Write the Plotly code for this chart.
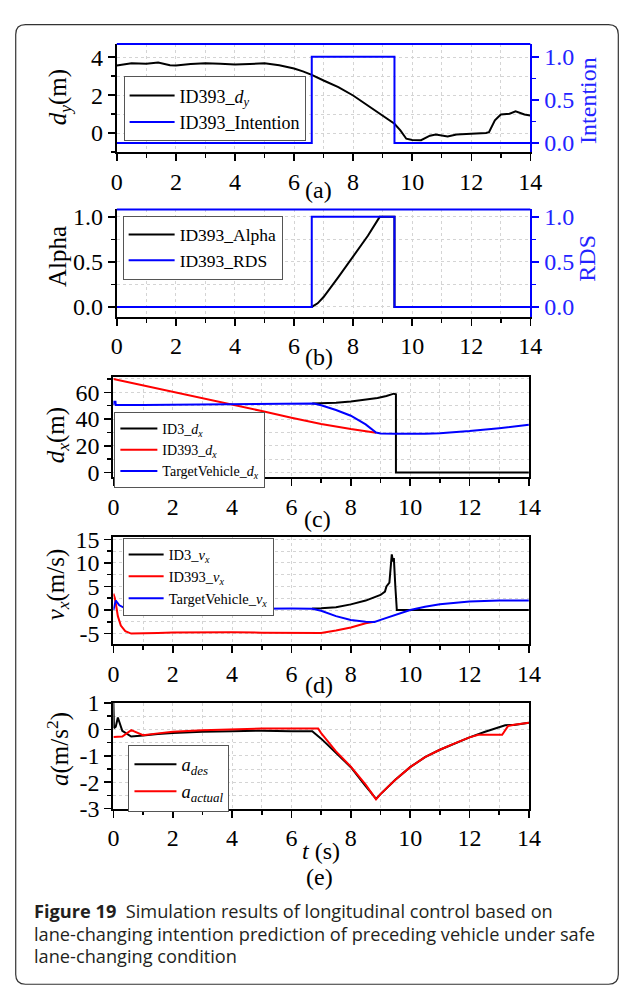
import plotly.graph_objects as go

W, H = 641, 1007

# ---------------- data ----------------
# (a)
t_dy = [0, 0.3, 0.5, 1.0, 1.4, 1.8, 2.0, 2.5, 3.0, 3.5, 4.0, 4.5, 5.0, 5.5, 6.0, 6.3, 6.6, 7.0, 7.5,
        8.0, 8.5, 9.0, 9.4, 9.6, 9.8, 10.0, 10.3, 10.6, 10.8, 11.2, 11.5, 12.0, 12.5, 12.6, 12.8,
        13.0, 13.3, 13.5, 13.8, 14.0]
dy = [3.56, 3.65, 3.68, 3.65, 3.72, 3.57, 3.56, 3.64, 3.68, 3.65, 3.61, 3.64, 3.68, 3.57, 3.40,
      3.25, 3.07, 2.77, 2.42, 1.98, 1.46, 0.93, 0.49, 0.14, -0.30, -0.37, -0.38, -0.14, -0.08,
      -0.18, -0.08, -0.04, 0.0, 0.05, 0.67, 0.98, 1.02, 1.14, 0.98, 0.92]
t_int = [0, 6.6, 6.6, 9.4, 9.4, 14]
intention = [0, 0, 1, 1, 0, 0]

# (b)
t_alpha = [0, 6.6, 6.8, 7.0, 7.5, 8.0, 8.5, 8.9, 9.4, 9.4, 14]
alpha = [0, 0, 0.04, 0.11, 0.33, 0.56, 0.79, 1.0, 1.0, 0, 0]
t_rds = [0, 6.6, 6.6, 9.4, 9.4, 14]
rds = [0, 0, 1, 1, 0, 0]

# (c)
t_id3_dx = [6.7, 7.0, 7.5, 8.0, 8.4, 8.9, 9.2, 9.38, 9.45, 9.52, 9.52, 14]
id3_dx = [51.7, 51.8, 52.2, 53.1, 54.2, 55.8, 57.3, 58.8, 59.0, 58.6, 0, 0]
t_id393_dx = [0, 1, 2, 3, 4, 5, 6, 7, 8, 8.85]
id393_dx = [70, 65.3, 60.5, 55.8, 51.0, 46.0, 41.0, 36.4, 32.6, 29.8]
t_tv_dx = [0, 0.01, 0.07, 0.08, 1, 2, 3, 4, 5, 6, 6.75, 7.0, 7.5, 8.0, 8.5, 8.85, 9.0, 9.5,
           10, 10.5, 11, 12, 13, 14]
tv_dx = [50.5, 53, 53, 50.5, 50.6, 50.8, 51.0, 51.2, 51.4, 51.6, 51.7, 50.3, 46.8, 42.5, 36.0,
         29.9, 29.3, 29.0, 28.9, 29.0, 29.4, 31.0, 33.2, 35.8]

# (d)
t_id3_vx = [6.7, 7.0, 7.5, 8.0, 8.5, 9.0, 9.15, 9.2, 9.3, 9.35, 9.38, 9.42, 9.45, 9.5, 9.55, 14]
id3_vx = [0.3, 0.35, 0.6, 1.2, 2.0, 3.2, 3.9, 5.0, 5.8, 10.0, 11.8, 10.3, 11.0, 5.0, 0, 0]
t_id393_vx = [0, 0.05, 0.1, 0.15, 0.25, 0.4, 0.6, 1, 1.5, 2, 3, 4, 5, 6, 7, 7.5, 8, 8.5, 8.8]
id393_vx = [3.5, 2.5, 0.7, -1.3, -3.3, -4.5, -5.0, -5.0, -4.85, -4.75, -4.7, -4.7, -4.8, -4.85,
            -4.85, -4.35, -3.7, -2.8, -2.5]
t_tv_vx = [0, 0.08, 0.2, 0.4, 1, 2, 4, 6, 6.7, 7.0, 7.5, 8.0, 8.5, 8.8, 9.0, 9.5, 10, 10.5, 11,
           12, 13, 14]
tv_vx = [0, 2.0, 1.0, 0.35, 0.15, 0.2, 0.27, 0.33, 0.27, -0.15, -1.3, -2.1, -2.5, -2.55, -2.1,
         -1.0, 0, 0.7, 1.2, 1.8, 2.0, 2.0]

# (e)
t_ades = [0, 0.02, 0.08, 0.15, 0.3, 0.6, 1.0, 1.5, 2, 3, 4, 5, 6, 6.7, 7, 7.5, 8, 8.5, 8.85, 9,
          9.5, 10, 10.5, 11, 11.5, 12, 12.5, 13, 13.2, 13.5, 14]
a_des = [1.0, 0.05, 0.1, 0.45, -0.05, -0.27, -0.23, -0.17, -0.14, -0.09, -0.07, -0.05, -0.07,
         -0.07, -0.35, -0.89, -1.43, -2.15, -2.63, -2.45, -1.91, -1.43, -1.05, -0.77, -0.53, -0.3,
         -0.1, 0.1, 0.16, 0.17, 0.25]
t_aact = [0, 0.3, 0.6, 0.9, 1.0, 1.5, 2, 3, 4, 5, 6, 6.9, 7.0, 7.5, 8, 8.5, 8.85, 9, 9.5, 10,
          10.5, 11, 11.5, 12, 12.3, 12.5, 13.1, 13.3, 13.5, 14]
a_act = [-0.29, -0.27, -0.03, -0.17, -0.22, -0.15, -0.09, -0.03, 0.0, 0.03, 0.03, 0.03, -0.14,
         -0.83, -1.41, -2.09, -2.65, -2.45, -1.91, -1.43, -1.05, -0.77, -0.53, -0.3, -0.2, -0.2,
         -0.2, 0.13, 0.18, 0.25]

# tick labels
x_ticks = [0, 2, 4, 6, 8, 10, 12, 14]
x_ticktext = ["0", "2", "4", "6", "8", "10", "12", "14"]
ya_ticks = [0, 2, 4]
ya_text = ["0", "2", "4"]
frac_ticks = [0, 0.5, 1.0]
frac_text = ["0.0", "0.5", "1.0"]
yc_ticks = [0, 20, 40, 60]
yc_text = ["0", "20", "40", "60"]
yd_ticks = [-5, 0, 5, 10, 15]
yd_text = ["-5", "0", "5", "10", "15"]
ye_ticks = [-3, -2, -1, 0, 1]
ye_text = ["-3", "-2", "-1", "0", "1"]

# ---------------- styling ----------------
SERIF = "Liberation Serif, Times New Roman, serif"
BLUE = "#0000ff"
BLUE_T = "#2323ff"
RED = "#ff0000"
GRID = "#d4d4d4"
LW = 2
TICK_SIZE = 24


def px_x(p):
    return p / W


def px_y(p):
    return 1 - p / H


fig = go.Figure()


def line(x, y, xa, ya, name, color, legend):
    fig.add_trace(go.Scatter(x=x, y=y, xaxis=xa, yaxis=ya, mode="lines", name=name,
                             line=dict(color=color, width=LW), legend=legend,
                             legendgroup=name, showlegend=True, hoverinfo="skip"))


line(t_dy, dy, "x", "y", "ID393_<i>d</i><sub><i>y</i></sub>", "black", "legend")
line(t_int, intention, "x", "y6", "ID393_Intention", BLUE, "legend")
line(t_alpha, alpha, "x2", "y2", "ID393_Alpha", "black", "legend2")
line(t_rds, rds, "x2", "y7", "ID393_RDS", BLUE, "legend2")
line(t_id393_dx, id393_dx, "x3", "y3", "ID393_<i>d</i><sub><i>x</i></sub>", RED, "legend3")
line(t_id3_dx, id3_dx, "x3", "y3", "ID3_<i>d</i><sub><i>x</i></sub>", "black", "legend3")
line(t_tv_dx, tv_dx, "x3", "y3", "TargetVehicle_<i>d</i><sub><i>x</i></sub>", BLUE, "legend3")
line(t_id3_vx, id3_vx, "x4", "y4", "ID3_<i>v</i><sub><i>x</i></sub>", "black", "legend4")
line(t_id393_vx, id393_vx, "x4", "y4", "ID393_<i>v</i><sub><i>x</i></sub>", RED, "legend4")
line(t_tv_vx, tv_vx, "x4", "y4", "TargetVehicle_<i>v</i><sub><i>x</i></sub>", BLUE, "legend4")
line(t_ades, a_des, "x5", "y5", "<i>a</i><sub><i>des</i></sub>", "black", "legend5")
line(t_aact, a_act, "x5", "y5", "<i>a</i><sub><i>actual</i></sub>", RED, "legend5")

fig.data[4].legendrank = 2
fig.data[5].legendrank = 1
fig.data[6].legendrank = 3

tickfont = dict(family=SERIF, size=TICK_SIZE, color="black")


def xaxis(dom, anchor, mirror):
    return dict(domain=[px_x(dom[0]), px_x(dom[1])], anchor=anchor, range=[0, 14],
                tickmode="array", tickvals=x_ticks, ticktext=x_ticktext,
                ticks="outside", ticklen=7, tickwidth=1.5, tickcolor="black",
                showline=True, linecolor="black", linewidth=2, mirror=mirror,
                showgrid=True, gridcolor=GRID, griddash="dot", gridwidth=1,
                minor=dict(dtick=1, tick0=0, ticks="outside", ticklen=4, tickwidth=1.5,
                           tickcolor="black", showgrid=True, gridcolor=GRID, griddash="dot"),
                tickfont=tickfont, zeroline=False, fixedrange=True)


def yaxis(dom, anchor, rng, tv, tt, mdt, mirror):
    return dict(domain=[px_y(dom[1]), px_y(dom[0])], anchor=anchor, range=rng,
                tickmode="array", tickvals=tv, ticktext=tt,
                ticks="outside", ticklen=7, tickwidth=1.5, tickcolor="black",
                showline=True, linecolor="black", linewidth=2, mirror=mirror,
                showgrid=True, gridcolor=GRID, griddash="dot", gridwidth=1,
                minor=dict(dtick=mdt, tick0=0, ticks="outside", ticklen=4, tickwidth=1.5,
                           tickcolor="black", showgrid=True, gridcolor=GRID, griddash="dot"),
                tickfont=tickfont, zeroline=False, fixedrange=True)


def y2axis(over, anchor, rng):
    return dict(overlaying=over, anchor=anchor, side="right", range=rng,
                tickmode="array", tickvals=frac_ticks, ticktext=frac_text,
                ticks="outside", ticklen=7, tickwidth=1.5, tickcolor=BLUE,
                showline=True, linecolor=BLUE, linewidth=2, showgrid=False,
                minor=dict(dtick=0.25, tick0=0, ticks="outside", ticklen=4, tickwidth=1.5,
                           tickcolor=BLUE, showgrid=False),
                tickfont=dict(family=SERIF, size=TICK_SIZE, color=BLUE_T), zeroline=False,
                fixedrange=True)


AB = (114, 539.5)
CDE = (110.5, 538)

layout = dict(
    width=W, height=H, margin=dict(l=0, r=0, t=0, b=0, pad=0),
    paper_bgcolor="white", plot_bgcolor="white", hovermode=False,
    xaxis=xaxis(AB, "y", False),
    yaxis=yaxis((31.7, 142.7), "x", [-1.0, 4.7], ya_ticks, ya_text, 1, False),
    yaxis6=y2axis("y", "x", [-0.106, 1.15]),
    xaxis2=xaxis(AB, "y2", False),
    yaxis2=yaxis((201.7, 311.7), "x2", [-0.108, 1.082], frac_ticks, frac_text, 0.25, False),
    yaxis7=y2axis("y2", "x2", [-0.108, 1.082]),
    xaxis3=xaxis(CDE, "y3", True),
    yaxis3=yaxis((374, 476.7), "x3", [-3.6, 71.2], yc_ticks, yc_text, 10, True),
    xaxis4=xaxis(CDE, "y4", True),
    yaxis4=yaxis((538.3, 647.7), "x4", [-7.2, 15.4], yd_ticks, yd_text, 2.5, True),
    xaxis5=xaxis(CDE, "y5", True),
    yaxis5=yaxis((708.3, 816.7), "x5", [-3, 1], ye_ticks, ye_text, 0.5, True),
)


def legend(x, y, size, itemw, yanchor="top"):
    return dict(x=px_x(x), y=px_y(y), xanchor="left", yanchor=yanchor, xref="paper",
                yref="paper", bgcolor="white", bordercolor="#555555", borderwidth=1,
                font=dict(family=SERIF, size=size, color="black"), itemwidth=itemw,
                tracegroupgap=0, traceorder="normal")


layout["legend"] = legend(121, 65, 18, 45)
layout["legend2"] = legend(120, 208, 17.5, 46)
layout["legend3"] = legend(111.5, 409.5, 14, 37)
layout["legend4"] = legend(120, 538.5, 14.5, 35)
layout["legend5"] = legend(126, 751, 18.5, 42)

fig.update_layout(**layout)

for ya in ("y", "y2"):
    fig.add_shape(type="line", xref=ya.replace("y", "x") + " domain", yref=ya + " domain",
                  x0=0, x1=1, y0=1, y1=1, line=dict(color=BLUE, width=2))

ann = []


def text(x, y, s, size, color="black", angle=0, family=SERIF, xanchor="center"):
    ann.append(dict(x=px_x(x), y=px_y(y), xref="paper", yref="paper", text=s,
                    showarrow=False, textangle=angle, xanchor=xanchor, yanchor="middle",
                    font=dict(family=family, size=size, color=color)))


text(55, 86, "<i>d</i><sub><i>y</i></sub>(m)", 25, angle=-90)
text(598, 90, "Intention", 24, color=BLUE_T, angle=-90)
text(53, 250, "Alpha", 25, angle=-90)
text(598, 252, "RDS", 24, color=BLUE_T, angle=-90)
text(53, 434, "<i>d</i><sub><i>x</i></sub>(m)", 25, angle=-90)
text(53, 587, "<i>v</i><sub><i>x</i></sub>(m/s)", 25, angle=-90)
text(54, 755, "<i>a</i>(m/s<sup>2</sup>)", 25, angle=-90)

text(322, 182, "(a)", 24)
text(322, 353, "(b)", 24)
text(321, 519, "(c)", 24)
text(322, 690, "(d)", 24)
text(324, 860, "<i>t</i> (s)", 24)
text(323, 887, "(e)", 24)

CAP = "Open Sans"
CAP_SIZE = 18.2
text(27, 922, "<b>Figure 19</b>  Simulation results of longitudinal control based on", CAP_SIZE,
     color="#231f20", family=CAP, xanchor="left")
text(27, 945, "lane-changing intention prediction of preceding vehicle under safe", CAP_SIZE,
     color="#231f20", family=CAP, xanchor="left")
text(27, 968, "lane-changing condition", CAP_SIZE, color="#231f20", family=CAP, xanchor="left")

fig.update_layout(annotations=ann)

x0, x1 = px_x(10), px_x(630)
y0, y1 = px_y(997), px_y(12)
rx, ry = 10 / W, 10 / H
path = (f"M {x0+rx},{y0} L {x1-rx},{y0} Q {x1},{y0} {x1},{y0+ry} L {x1},{y1-ry} "
        f"Q {x1},{y1} {x1-rx},{y1} L {x0+rx},{y1} Q {x0},{y1} {x0},{y1-ry} "
        f"L {x0},{y0+ry} Q {x0},{y0} {x0+rx},{y0} Z")
fig.add_shape(type="path", xref="paper", yref="paper", path=path,
              line=dict(color="#333333", width=1.2), layer="below")

css = ("var s=document.createElement('style');"
       "s.textContent='html,body{margin:0!important;padding:0!important;overflow:hidden;"
       "width:641px;height:1007px;}body>div{margin:0;padding:0;}';"
       "document.head.appendChild(s);")

fig.write_html("out.html", config={"displayModeBar": False, "staticPlot": True},
               post_script=css)
